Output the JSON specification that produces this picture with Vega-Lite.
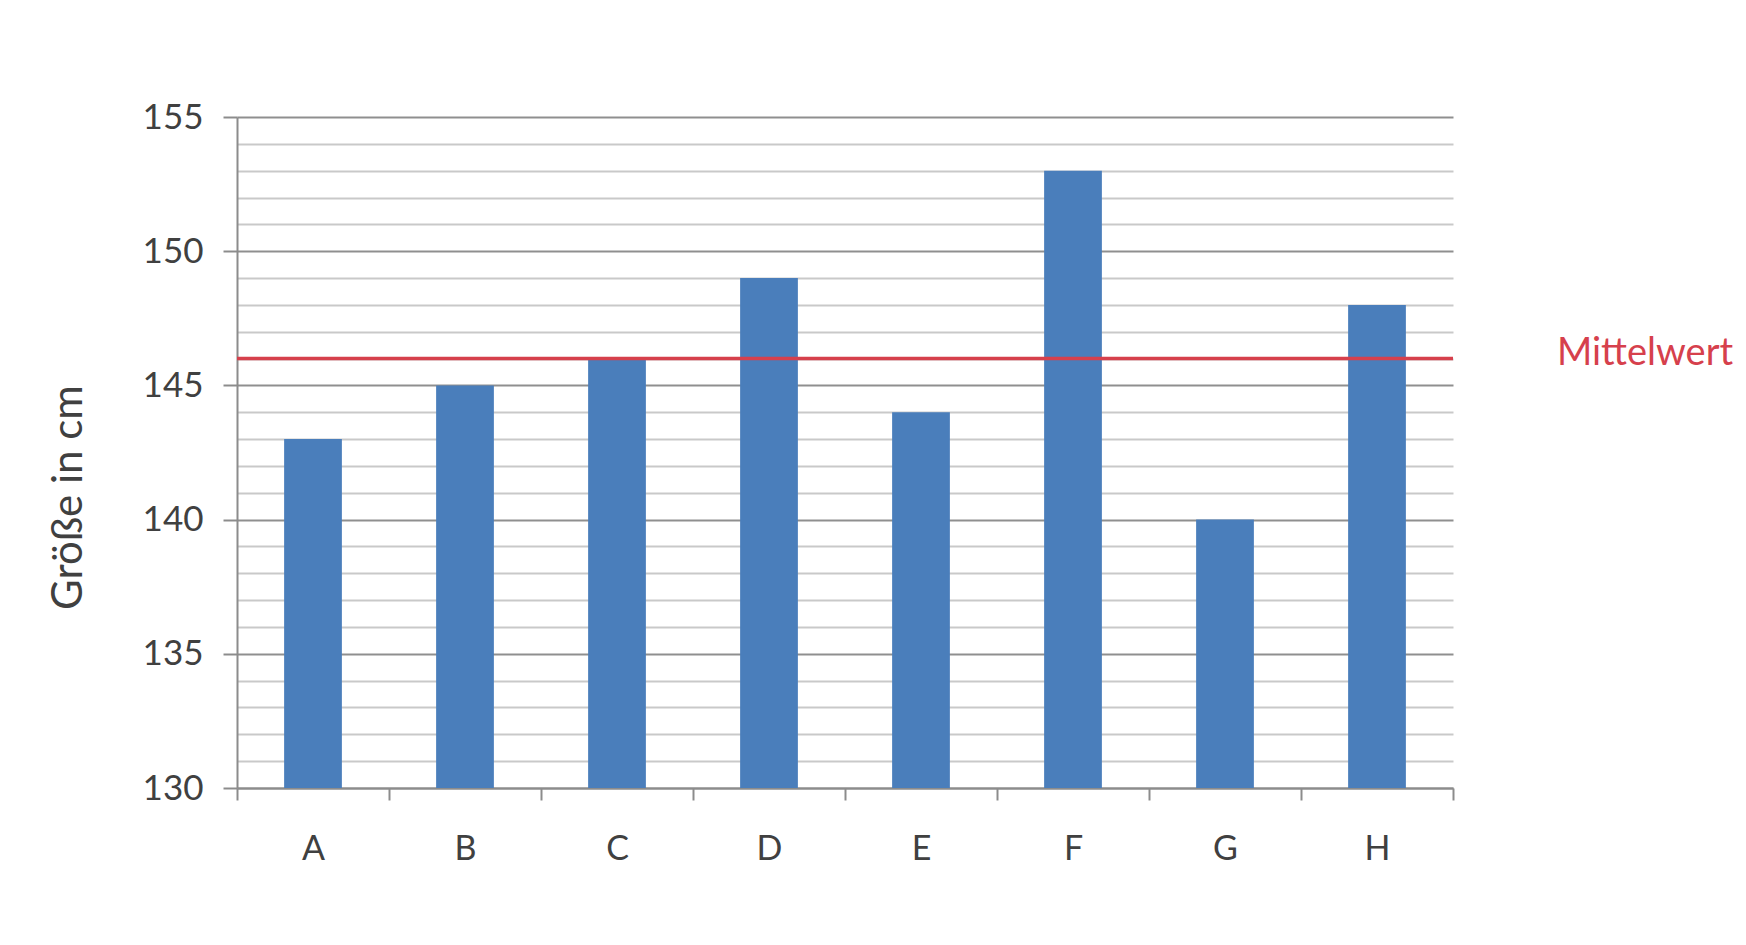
{
  "$schema": "https://vega.github.io/schema/vega-lite/v6.json",
  "width": 1216,
  "height": 671,
  "autosize": {"type": "none"},
  "padding": {"left": 237, "top": 117, "right": 293, "bottom": 157},
  "background": "white",
  "config": {
    "view": {"stroke": null},
    "font": "Lato",
    "axis": {"labelFont": "Lato", "titleFont": "Lato"}
  },
  "data": {
    "values": [
      {"schueler": "A", "groesse": 143},
      {"schueler": "B", "groesse": 145},
      {"schueler": "C", "groesse": 146},
      {"schueler": "D", "groesse": 149},
      {"schueler": "E", "groesse": 144},
      {"schueler": "F", "groesse": 153},
      {"schueler": "G", "groesse": 140},
      {"schueler": "H", "groesse": 148}
    ]
  },
  "layer": [
    {
      "mark": {"type": "bar", "color": "#4a7ebb", "width": {"band": 0.38}},
      "encoding": {
        "x": {
          "field": "schueler",
          "type": "nominal",
          "scale": {"paddingInner": 0, "paddingOuter": 0},
          "axis": {
            "title": null,
            "labelAngle": 0,
            "labelFontSize": 34,
            "labelColor": "#404040",
            "labelPadding": 32,
            "labelOverlap": false,
            "tickBand": "extent",
            "tickSize": 12,
            "tickWidth": 2,
            "tickColor": "#8c8c8c",
            "domainColor": "#8c8c8c",
            "domainWidth": 2,
            "grid": false
          }
        },
        "y": {
          "field": "groesse",
          "type": "quantitative",
          "scale": {"domain": [130, 155], "nice": false, "zero": false, "clamp": true},
          "axis": {
            "title": "Größe in cm",
            "titleFontSize": 42,
            "titleFontWeight": "normal",
            "titleColor": "#404040",
            "titlePadding": 52,
            "titleY": 380,
            "values": [130,131,132,133,134,135,136,137,138,139,140,141,142,143,144,145,146,147,148,149,150,151,152,153,154,155],
            "tickCount": 40,
            "format": "d",
            "labelExpr": "datum.value % 5 === 0 ? datum.label : ''",
            "labelOverlap": false,
            "labelFontSize": 35,
            "labelColor": "#404040",
            "labelPadding": 20,
            "tickSize": 14,
            "tickWidth": 2,
            "tickColor": {"condition": {"test": "datum.value % 5 === 0", "value": "#8c8c8c"}, "value": "rgba(0,0,0,0)"},
            "domainColor": "#8c8c8c",
            "domainWidth": 2,
            "grid": true,
            "gridColor": {"condition": {"test": "datum.value % 5 === 0", "value": "#8f8f8f"}, "value": "#c9c9c9"},
            "gridWidth": 2
          }
        }
      }
    },
    {
      "mark": {"type": "rule", "color": "#d6404c", "strokeWidth": 3.5},
      "encoding": {
        "y": {"aggregate": "mean", "field": "groesse", "type": "quantitative"}
      }
    },
    {
      "mark": {"type": "text", "text": "Mittelwert", "color": "#d6404c", "fontSize": 38, "align": "left", "baseline": "middle", "dx": 104, "dy": -5},
      "encoding": {
        "x": {"value": "width"},
        "y": {"aggregate": "mean", "field": "groesse", "type": "quantitative"}
      }
    }
  ]
}
